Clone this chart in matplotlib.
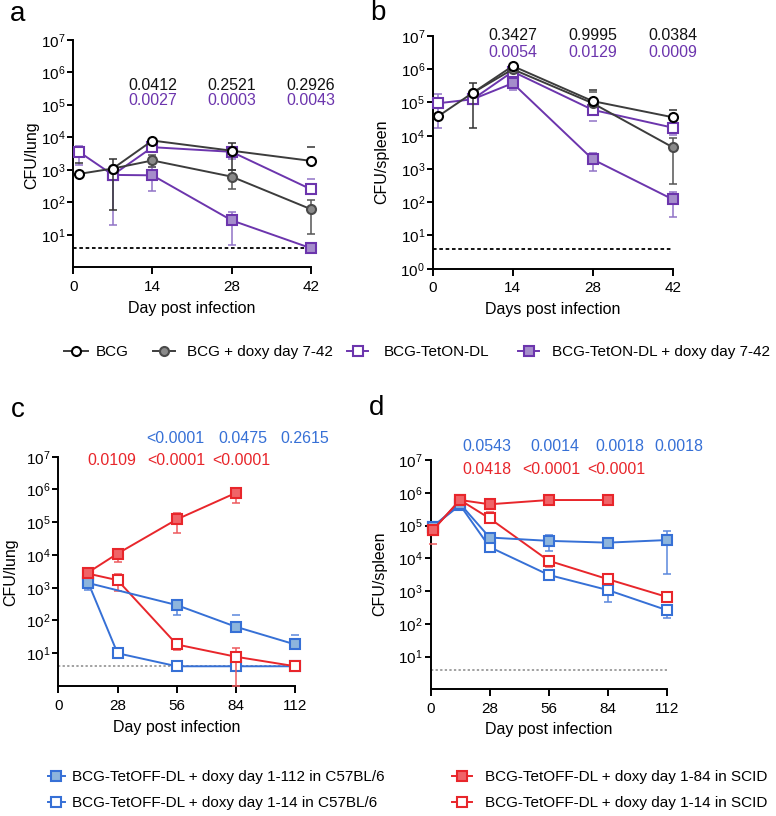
import numpy as np
import matplotlib
matplotlib.use("Agg")
import matplotlib.pyplot as plt
import matplotlib.transforms as mtransforms
from matplotlib.ticker import LogFormatterSciNotation, NullLocator

plt.rcParams['font.family'] = ['Liberation Sans', 'DejaVu Sans']
plt.rcParams['mathtext.fontset'] = 'custom'
plt.rcParams['mathtext.rm'] = 'Liberation Sans'
plt.rcParams['font.size'] = 11

nan = np.nan

# ---- panel a: CFU/lung, days 0-42 ----
days_a = [1, 7, 14, 28, 42]
bcg_a = [750, 1100, 8000, 3900, 1900]
bcg_a_hi = [1600, 2100, nan, 6600, 4900]
bcg_a_lo = [nan, 60, nan, 1000, nan]

days_a_doxy = [7, 14, 28, 42]
bcgdoxy_a = [1100, 1950, 620, 62]
bcgdoxy_a_hi = [nan, 2900, 1000, 115]
bcgdoxy_a_lo = [nan, 1200, 260, 10.5]

teton_a = [3600, 700, 5000, 3600, 255]
teton_a_hi = [5500, 1000, nan, nan, 530]
teton_a_lo = [1400, 20, nan, 2200, nan]

tetondoxy_a = [700, 680, 28, 3.9]
tetondoxy_a_hi = [nan, 1200, 52, nan]
tetondoxy_a_lo = [nan, 225, 4.9, nan]

# ---- panel b: CFU/spleen, days 0-42 ----
bcg_b = [39000, 195000, 1.25e6, 110000, 36000]
bcg_b_hi = [nan, 380000, nan, 230000, 59000]
bcg_b_lo = [nan, 17000, nan, nan, nan]

bcgdoxy_b = [195000, 1.0e6, 95000, 4500]
bcgdoxy_b_hi = [nan, nan, 200000, 8300]
bcgdoxy_b_lo = [nan, nan, nan, 360]

teton_b = [95000, 125000, 850000, 60000, 17500]
teton_b_hi = [180000, nan, nan, nan, nan]
teton_b_lo = [16500, nan, nan, 28000, 10500]

tetondoxy_b = [125000, 380000, 1950, 122]
tetondoxy_b_hi = [nan, nan, 3100, 205]
tetondoxy_b_lo = [nan, 240000, 870, 35]

# ---- panel c: CFU/lung, days 0-112 ----
days_c_long = [14, 56, 84, 112]
c57long_c = [1400, 295, 64, 18.5]
c57long_c_hi = [2000, 420, 145, 37]
c57long_c_lo = [850, 150, nan, nan]

days_c_short = [14, 28, 56, 84, 112]
c57short_c = [1500, 10, 4, 4, 4]

days_c_scid = [14, 28, 56, 84]
scidlong_c = [2900, 11000, 122000, 790000]
scidlong_c_hi = [nan, 15000, 195000, 1.07e6]
scidlong_c_lo = [nan, 6200, 48000, 390000]

scidshort_c = [2700, 1700, 18.5, 7.8, 4]
scidshort_c_hi = [nan, 2600, 22, 14, nan]
scidshort_c_lo = [nan, 800, 13, 1, nan]

# ---- panel d: CFU/spleen, days 0-112 ----
days_d = [1, 14, 28, 56, 84, 112]
c57long_d = [91000, 460000, 43000, 34000, 30000, 36000]
c57long_d_hi = [nan, nan, nan, 53000, 35000, 69000]
c57long_d_lo = [nan, nan, nan, 17000, 20000, 3200]

c57short_d = [91000, 420000, 22000, 3100, 1070, 260]
c57short_d_hi = [nan, nan, nan, nan, 1600, 370]
c57short_d_lo = [nan, nan, nan, 2300, 450, 155]

days_d_scid = [1, 14, 28, 56, 84]
scidlong_d = [72000, 600000, 445000, 600000, 600000]
scidlong_d_lo = [28000, nan, nan, nan, 430000]
scidlong_d_hi = [nan, nan, nan, nan, nan]

scidshort_d = [72000, 600000, 165000, 8400, 2300, 660]
scidshort_d_hi = [nan, nan, 260000, 12000, nan, nan]
scidshort_d_lo = [nan, nan, nan, 5500, nan, nan]

detection_limit = 4

# p values
p_a_black = ['0.0412', '0.2521', '0.2926']
p_a_purple = ['0.0027', '0.0003', '0.0043']
p_b_black = ['0.3427', '0.9995', '0.0384']
p_b_purple = ['0.0054', '0.0129', '0.0009']
p_c_blue = ['<0.0001', '0.0475', '0.2615']
p_c_red = ['0.0109', '<0.0001', '<0.0001']
p_d_blue = ['0.0543', '0.0014', '0.0018', '0.0018']
p_d_red = ['0.0418', '<0.0001', '<0.0001']

# colours
BLACK = '#3c3c3c'
GREY = '#8a8a8a'
PURPLE = '#6c35ad'
PURPLE_ERR = '#9173c6'
PURPLE_FACE = '#a58dcb'
BLUE = '#3670d6'
BLUE_ERR = '#5b88dc'
BLUE_FACE = '#8db5dd'
RED = '#e8262b'
RED_ERR = '#ee5a5e'
RED_FACE = '#f06468'

W, H = 776, 816
fig = plt.figure(figsize=(W / 100, H / 100), dpi=100)


def px_axes(left, top, right, bottom):
    return fig.add_axes([left / W, 1 - bottom / H, (right - left) / W, (bottom - top) / H])


def series(ax, days, vals, lo, hi, color, face, ecolor, marker, z, edge=None):
    vals = np.array(vals, float)
    lo = np.array(lo, float) if lo is not None else np.full(len(vals), nan)
    hi = np.array(hi, float) if hi is not None else np.full(len(vals), nan)
    ax.errorbar(days, vals, yerr=[vals - lo, hi - vals], fmt='none', ecolor=ecolor,
                elinewidth=1.1, capsize=3, capthick=1.1, zorder=z, clip_on=False)
    line, = ax.plot(days, vals, color=color, lw=1.4, marker=marker, ms=6.5,
                    mfc=face, mec=edge or color, mew=1.5, zorder=z + 0.5, clip_on=False)
    return line


def style(ax, xmax, xticks, yticks, xlabel, ylabel, ylab_xy, xlab_y):
    ax.set_yscale('log')
    ax.set_ylim(1, 1e7)
    ax.set_xlim(0, xmax)
    ax.set_xticks(xticks)
    ax.set_yticks(yticks)
    ax.yaxis.set_major_formatter(LogFormatterSciNotation())
    ax.yaxis.set_minor_locator(NullLocator())
    for s in ['top', 'right']:
        ax.spines[s].set_visible(False)
    for s in ['left', 'bottom']:
        ax.spines[s].set_linewidth(1.4)
    ax.tick_params(axis='x', length=5, width=1.4, pad=4, labelsize=11)
    ax.tick_params(axis='y', length=4, width=1.4, pad=1.5, labelsize=11)
    ax.set_xlabel(xlabel, fontsize=11.5, va='center')
    ax.xaxis.set_label_coords(0.5, xlab_y)
    ax.set_ylabel(ylabel, fontsize=11.5, va='center')
    ax.yaxis.set_label_coords(*ylab_xy)


def pvals(ax, labels, xs, yfrac, color):
    tr = mtransforms.blended_transform_factory(ax.transData, ax.transAxes)
    for lab, x in zip(labels, xs):
        ax.text(x, yfrac, lab, transform=tr, ha='center', va='center', color=color, fontsize=11.5)


# ---------- a ----------
ax = px_axes(73.3, 40, 310.7, 267.3)
ax.axhline(detection_limit, color='black', lw=1.3, ls=(0, (2, 1.5)), zorder=1)
h_tetondoxy = series(ax, days_a_doxy, tetondoxy_a, tetondoxy_a_lo, tetondoxy_a_hi, PURPLE, PURPLE_FACE, PURPLE_ERR, 's', 2)
h_teton = series(ax, days_a, teton_a, teton_a_lo, teton_a_hi, PURPLE, 'white', PURPLE_ERR, 's', 3)
h_bcgdoxy = series(ax, days_a_doxy, bcgdoxy_a, bcgdoxy_a_lo, bcgdoxy_a_hi, BLACK, GREY, '#555555', 'o', 4, edge='#4a4a4a')
h_bcg = series(ax, days_a, bcg_a, bcg_a_lo, bcg_a_hi, BLACK, 'white', '#333333', 'o', 5, edge='black')
style(ax, 42, [0, 14, 28, 42], [10 ** k for k in range(1, 8)], 'Day post infection', 'CFU/lung',
      (-0.174, 0.494), -0.181)
pvals(ax, p_a_black, [14, 28, 42], 0.798, '#111111')
pvals(ax, p_a_purple, [14, 28, 42], 0.736, PURPLE)
fig.text(18 / W, 1 - 14 / H, 'a', fontsize=20, ha='center', va='center')

# ---------- b ----------
ax = px_axes(432.7, 36, 672.7, 268.7)
ax.axhline(detection_limit, color='black', lw=1.3, ls=(0, (2, 1.5)), zorder=1)
series(ax, days_a_doxy, tetondoxy_b, tetondoxy_b_lo, tetondoxy_b_hi, PURPLE, PURPLE_FACE, PURPLE_ERR, 's', 2)
series(ax, days_a, teton_b, teton_b_lo, teton_b_hi, PURPLE, 'white', PURPLE_ERR, 's', 3)
series(ax, days_a_doxy, bcgdoxy_b, bcgdoxy_b_lo, bcgdoxy_b_hi, BLACK, GREY, '#555555', 'o', 4, edge='#4a4a4a')
series(ax, days_a, bcg_b, bcg_b_lo, bcg_b_hi, BLACK, 'white', '#333333', 'o', 5, edge='black')
style(ax, 42, [0, 14, 28, 42], [10 ** k for k in range(0, 8)], 'Days post infection', 'CFU/spleen',
      (-0.211, 0.459), -0.177)
pvals(ax, p_b_black, [14, 28, 42], 1.004, '#111111')
pvals(ax, p_b_purple, [14, 28, 42], 0.931, PURPLE)
fig.text(378 / W, 1 - 13 / H, 'b', fontsize=20, ha='center', va='center')

# top legend
def key(handle, label, x, y, hl, pad):
    fig.legend([handle], [label], loc='center left', bbox_to_anchor=(x / W, 1 - y / H),
               frameon=False, borderpad=0, borderaxespad=0, handlelength=hl,
               handletextpad=pad, fontsize=11)

key(h_bcg, 'BCG', 64, 352, 1.6, 0.5)
key(h_bcgdoxy, 'BCG + doxy day 7-42', 153, 352, 1.45, 0.8)
key(h_teton, 'BCG-TetON-DL', 347, 352, 1.4, 1.0)
key(h_tetondoxy, 'BCG-TetON-DL + doxy day 7-42', 518, 352, 1.4, 0.8)

# ---------- c ----------
ax = px_axes(58.3, 456.7, 295.3, 686)
ax.axhline(detection_limit, color='#888888', lw=1.1, ls=(0, (1.5, 1.5)), zorder=1)
h_c57short = series(ax, days_c_short, c57short_c, None, None, BLUE, 'white', BLUE_ERR, 's', 2)
h_scidshort = series(ax, days_c_short, scidshort_c, scidshort_c_lo, scidshort_c_hi, RED, 'white', RED_ERR, 's', 3)
h_c57long = series(ax, days_c_long, c57long_c, c57long_c_lo, c57long_c_hi, BLUE, BLUE_FACE, BLUE_ERR, 's', 4)
h_scidlong = series(ax, days_c_scid, scidlong_c, scidlong_c_lo, scidlong_c_hi, RED, RED_FACE, RED_ERR, 's', 5)
style(ax, 112, [0, 28, 56, 84, 112], [10 ** k for k in range(1, 8)], 'Day post infection', 'CFU/lung',
      (-0.2, 0.497), -0.179)
pvals(ax, p_c_blue, [55.2, 87.1, 116.6], 1.0815, BLUE)
pvals(ax, p_c_red, [25.2, 55.6, 86.7], 0.9856, RED)
fig.text(18 / W, 1 - 410 / H, 'c', fontsize=20, ha='center', va='center')

# ---------- d ----------
ax = px_axes(430.5, 460, 667, 689.3)
ax.axhline(detection_limit, color='#888888', lw=1.1, ls=(0, (1.5, 1.5)), zorder=1)
series(ax, days_d, c57short_d, c57short_d_lo, c57short_d_hi, BLUE, 'white', BLUE_ERR, 's', 2)
series(ax, days_d, scidshort_d, scidshort_d_lo, scidshort_d_hi, RED, 'white', RED_ERR, 's', 3)
series(ax, days_d, c57long_d, c57long_d_lo, c57long_d_hi, BLUE, BLUE_FACE, BLUE_ERR, 's', 4)
series(ax, days_d_scid, scidlong_d, scidlong_d_lo, scidlong_d_hi, RED, RED_FACE, RED_ERR, 's', 5)
style(ax, 112, [0, 28, 56, 84, 112], [10 ** k for k in range(1, 8)], 'Day post infection', 'CFU/spleen',
      (-0.2135, 0.503), -0.177)
pvals(ax, p_d_blue, [26.8, 59.1, 89.8, 117.7], 1.0567, BLUE)
pvals(ax, p_d_red, [26.8, 57.0, 87.9], 0.9607, RED)
fig.text(377 / W, 1 - 408 / H, 'd', fontsize=20, ha='center', va='center')

# bottom legend
key(h_c57long, 'BCG-TetOFF-DL + doxy day 1-112 in C57BL/6', 48, 777, 1.1, 0.45)
key(h_c57short, 'BCG-TetOFF-DL + doxy day 1-14 in C57BL/6', 48, 803, 1.1, 0.45)
key(h_scidlong, 'BCG-TetOFF-DL + doxy day 1-84 in SCID', 452, 777, 1.3, 0.85)
key(h_scidshort, 'BCG-TetOFF-DL + doxy day 1-14 in SCID', 452, 803, 1.3, 0.85)

fig.savefig('out.png', dpi=100)
